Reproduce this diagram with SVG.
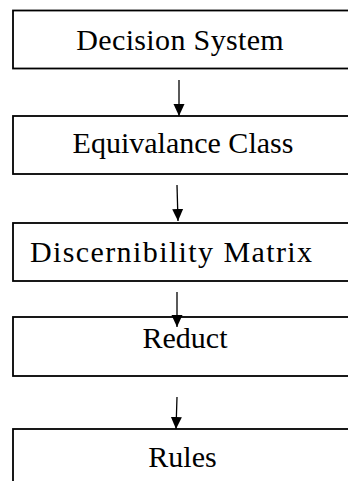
<svg xmlns="http://www.w3.org/2000/svg" width="348" height="481" viewBox="0 0 348 481">
<style>
.box{fill:#fff;stroke:#000;stroke-width:1.8}
.conn{stroke:#000;stroke-width:1.3;fill:none}
</style>
<defs>
<marker id="ah" markerUnits="userSpaceOnUse" markerWidth="12" markerHeight="13" viewBox="0 0 12 13" refX="12" refY="6" orient="auto">
<path d="M0,0.5 L12,6 L0,11.5 Z" fill="#000"/>
</marker>
</defs>
<rect width="348" height="481" fill="#fff"/>
<g font-family="Liberation Serif, Times New Roman, serif" font-size="30" fill="#000" text-anchor="middle">
<g id="n1"><rect class="box" x="13" y="10.5" width="400" height="58"/><text x="180.2" y="50" letter-spacing="0.35">Decision System</text></g>
<g id="n2"><rect class="box" x="13" y="116" width="400" height="58"/><text x="183" y="153">Equivalance Class</text></g>
<g id="n3"><rect class="box" x="13" y="223" width="400" height="58"/><text x="171.7" y="262" letter-spacing="1.4">Discernibility Matrix</text></g>
<g id="n4"><rect class="box" x="13" y="317" width="400" height="59"/><text x="185" y="348">Reduct</text></g>
<g id="n5"><rect class="box" x="13" y="429" width="400" height="80"/><text x="182.5" y="467">Rules</text></g>
</g>
<g id="connectors">
<path class="conn" d="M179,80 L179,116" marker-end="url(#ah)"/>
<path class="conn" d="M177,185 L178,221" marker-end="url(#ah)"/>
<path class="conn" d="M177,292 L177,327" marker-end="url(#ah)"/>
<path class="conn" d="M177,397 L176,429" marker-end="url(#ah)"/>
</g>
</svg>
